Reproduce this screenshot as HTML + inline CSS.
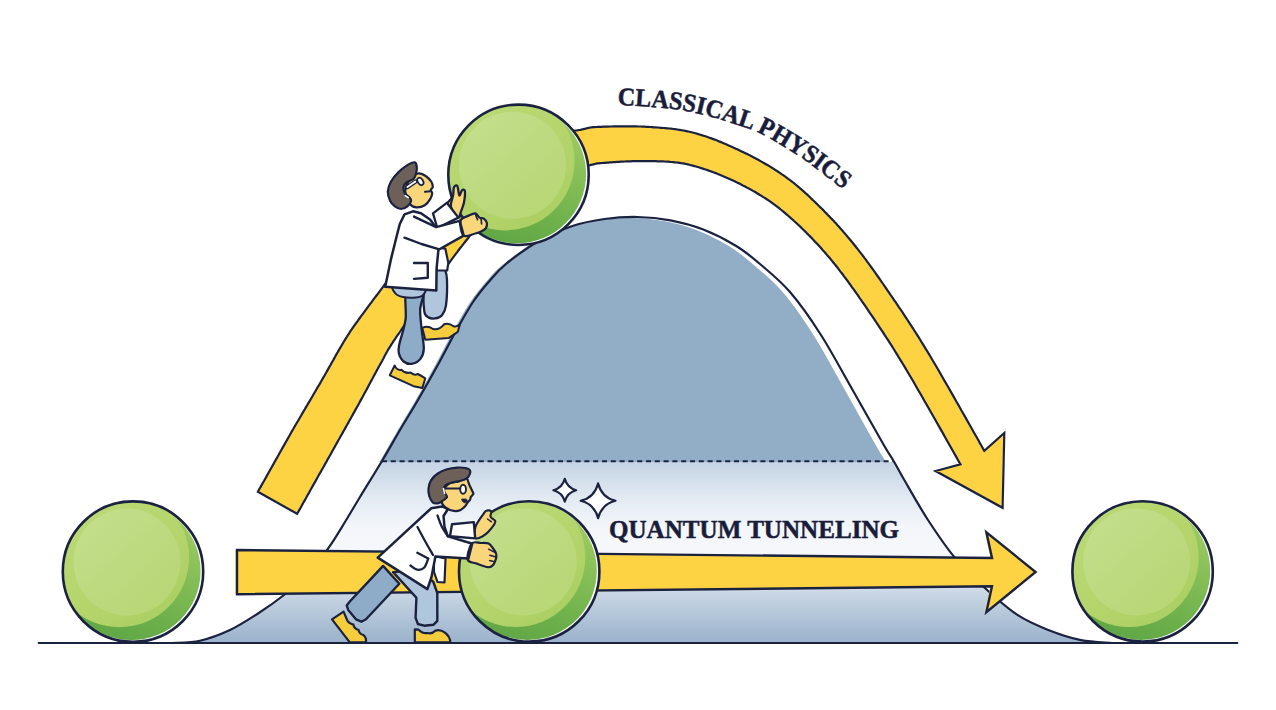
<!DOCTYPE html>
<html><head><meta charset="utf-8"><title>Quantum tunneling</title>
<style>
html,body{margin:0;padding:0;background:#fff;}
body{width:1276px;height:710px;overflow:hidden;font-family:"Liberation Serif",serif;}
svg{display:block;}
text{font-family:"Liberation Serif",serif;font-weight:bold;fill:#1a1d3a;}
</style></head><body>
<svg width="1276" height="710" viewBox="0 0 1276 710">
<defs>
<linearGradient id="gLow" x1="0" y1="462" x2="0" y2="643" gradientUnits="userSpaceOnUse">
<stop offset="0" stop-color="#c4d4e4"/><stop offset="0.2" stop-color="#e2eaf2"/>
<stop offset="0.36" stop-color="#f3f6fa"/><stop offset="0.5" stop-color="#f6f8fb"/>
<stop offset="0.62" stop-color="#e3eaf2"/><stop offset="0.74" stop-color="#c6d4e3"/><stop offset="1" stop-color="#9ab2cb"/>
</linearGradient>
<linearGradient id="gBall" x1="0.8" y1="0.1" x2="0.45" y2="1">
<stop offset="0" stop-color="#a0cc62"/><stop offset="0.4" stop-color="#84bd56"/>
<stop offset="0.75" stop-color="#6db04b"/><stop offset="1" stop-color="#62a846"/>
</linearGradient>
<linearGradient id="gBallMid" x1="0.2" y1="0.1" x2="0.85" y2="0.9">
<stop offset="0" stop-color="#bbd976"/><stop offset="0.6" stop-color="#b5d56c"/>
<stop offset="1" stop-color="#abcf63"/>
</linearGradient>
<linearGradient id="gBallIn" x1="0.15" y1="0.1" x2="0.85" y2="0.9">
<stop offset="0" stop-color="#c4de8b"/><stop offset="0.5" stop-color="#bdda80"/>
<stop offset="1" stop-color="#b8d775"/>
</linearGradient>
<clipPath id="cHill"><path d="M172.0 643.0 C176.7 642.6 190.3 642.9 200.0 640.7 C209.7 638.5 220.3 634.5 230.0 630.0 C239.7 625.5 249.0 619.3 258.0 613.5 C267.0 607.7 275.7 601.6 284.0 595.0 C292.3 588.4 300.7 581.7 308.0 574.0 C315.3 566.3 321.8 557.4 328.0 548.7 C334.2 540.0 339.7 530.6 345.0 522.0 C350.3 513.4 353.8 507.2 360.0 497.0 C366.2 486.8 375.3 472.2 382.0 461.0 C388.7 449.8 394.0 440.2 400.0 430.0 C406.0 419.8 411.3 411.5 418.0 400.0 C424.7 388.5 433.7 372.5 440.0 361.0 C446.3 349.5 450.5 340.8 456.0 331.0 C461.5 321.2 467.5 310.2 473.0 302.0 C478.5 293.8 483.5 287.8 489.0 281.5 C494.5 275.2 497.7 270.8 506.0 264.0 C514.3 257.2 527.8 247.3 538.7 241.0 C549.7 234.7 560.7 229.9 571.7 226.2 C582.7 222.5 593.6 220.5 604.6 219.0 C615.6 217.5 626.5 216.8 637.5 217.0 C648.5 217.2 659.4 218.2 670.4 220.3 C681.4 222.4 692.3 225.2 703.3 229.5 C714.3 233.8 726.8 240.2 736.2 246.0 C745.7 251.8 751.0 256.3 760.0 264.0 C769.0 271.7 779.8 280.2 790.0 292.0 C800.2 303.8 810.8 319.0 821.0 335.0 C831.2 351.0 841.1 369.8 851.5 388.0 C861.9 406.2 876.2 431.8 883.2 444.0 C890.2 456.2 890.1 455.1 893.6 461.0 C897.1 466.9 898.3 469.7 904.0 479.5 C909.7 489.3 919.5 507.0 928.0 520.0 C936.5 533.0 945.0 546.0 954.7 557.5 C964.4 569.0 975.5 579.4 986.0 589.0 C996.5 598.6 1007.3 608.3 1017.8 615.2 C1028.3 622.1 1038.5 626.1 1049.0 630.3 C1059.5 634.5 1070.5 638.1 1081.0 640.2 C1091.5 642.3 1106.8 642.5 1112.0 643.0 L1112 643 L172 643Z"/></clipPath>
<clipPath id="cUp"><rect x="0" y="0" width="1276" height="462"/></clipPath>
<clipPath id="cLow"><rect x="0" y="462" width="1276" height="181"/></clipPath>
<path id="tp" d="M617.6 105.0 C621.4 105.2 631.2 105.5 640.6 106.2 C650.0 106.9 664.3 107.8 674.1 109.1 C683.9 110.4 690.3 111.6 699.3 113.8 C708.3 116.0 718.0 118.7 728.1 122.0 C738.2 125.3 749.3 128.3 760.2 133.4 C771.1 138.5 784.0 146.7 793.5 152.7 C803.0 158.7 808.8 162.9 817.5 169.5 C826.2 176.1 837.2 184.6 846.0 192.0 C854.8 199.4 866.0 210.3 870.0 214.0"/>
</defs>
<rect width="1276" height="710" fill="#fff"/>
<!-- hill fills -->
<g clip-path="url(#cLow)"><rect x="150" y="462" width="1000" height="181" fill="url(#gLow)" clip-path="url(#cHill)"/></g>
<g clip-path="url(#cUp)"><path d="M172.0 643.0 C176.7 642.6 190.3 642.9 200.0 640.7 C209.7 638.5 220.3 634.5 230.0 630.0 C239.7 625.5 249.0 619.3 258.0 613.5 C267.0 607.7 275.7 601.6 284.0 595.0 C292.3 588.4 300.7 581.7 308.0 574.0 C315.3 566.3 321.8 557.4 328.0 548.7 C334.2 540.0 339.7 530.6 345.0 522.0 C350.3 513.4 353.8 507.2 360.0 497.0 C366.2 486.8 375.3 472.2 382.0 461.0 C388.7 449.8 394.0 440.2 400.0 430.0 C406.0 419.8 411.3 411.5 418.0 400.0 C424.7 388.5 433.7 372.5 440.0 361.0 C446.3 349.5 450.5 340.8 456.0 331.0 C461.5 321.2 467.5 310.2 473.0 302.0 C478.5 293.8 483.5 287.8 489.0 281.5 C494.5 275.2 497.7 270.8 506.0 264.0 C514.3 257.2 527.8 247.3 538.7 241.0 C549.7 234.7 560.7 229.9 571.7 226.2 C582.7 222.5 593.6 220.5 604.6 219.0 C615.6 217.5 626.5 216.8 637.5 217.0 C648.5 217.2 659.4 218.2 670.4 220.3 C681.4 222.4 692.3 225.2 703.3 229.5 C714.3 233.8 726.8 240.2 736.2 246.0 C745.7 251.8 751.0 256.3 760.0 264.0 C769.0 271.7 779.8 280.2 790.0 292.0 C800.2 303.8 810.8 319.0 821.0 335.0 C831.2 351.0 841.1 369.8 851.5 388.0 C861.9 406.2 876.2 431.8 883.2 444.0 C890.2 456.2 890.1 455.1 893.6 461.0 C897.1 466.9 898.3 469.7 904.0 479.5 C909.7 489.3 919.5 507.0 928.0 520.0 C936.5 533.0 945.0 546.0 954.7 557.5 C964.4 569.0 975.5 579.4 986.0 589.0 C996.5 598.6 1007.3 608.3 1017.8 615.2 C1028.3 622.1 1038.5 626.1 1049.0 630.3 C1059.5 634.5 1070.5 638.1 1081.0 640.2 C1091.5 642.3 1106.8 642.5 1112.0 643.0 L1112 643 L172 643Z" fill="#92adc6" transform="translate(-5,1) translate(638,0) scale(0.99,1) translate(-638,0)"/></g>
<line x1="382" y1="461.3" x2="894" y2="461.3" stroke="#1b2240" stroke-width="2.1" stroke-dasharray="5 3.8"/>
<path d="M172.0 643.0 C176.7 642.6 190.3 642.9 200.0 640.7 C209.7 638.5 220.3 634.5 230.0 630.0 C239.7 625.5 249.0 619.3 258.0 613.5 C267.0 607.7 275.7 601.6 284.0 595.0 C292.3 588.4 300.7 581.7 308.0 574.0 C315.3 566.3 321.8 557.4 328.0 548.7 C334.2 540.0 339.7 530.6 345.0 522.0 C350.3 513.4 353.8 507.2 360.0 497.0 C366.2 486.8 375.3 472.2 382.0 461.0 C388.7 449.8 394.0 440.2 400.0 430.0 C406.0 419.8 411.3 411.5 418.0 400.0 C424.7 388.5 433.7 372.5 440.0 361.0 C446.3 349.5 450.5 340.8 456.0 331.0 C461.5 321.2 467.5 310.2 473.0 302.0 C478.5 293.8 483.5 287.8 489.0 281.5 C494.5 275.2 497.7 270.8 506.0 264.0 C514.3 257.2 527.8 247.3 538.7 241.0 C549.7 234.7 560.7 229.9 571.7 226.2 C582.7 222.5 593.6 220.5 604.6 219.0 C615.6 217.5 626.5 216.8 637.5 217.0 C648.5 217.2 659.4 218.2 670.4 220.3 C681.4 222.4 692.3 225.2 703.3 229.5 C714.3 233.8 726.8 240.2 736.2 246.0 C745.7 251.8 751.0 256.3 760.0 264.0 C769.0 271.7 779.8 280.2 790.0 292.0 C800.2 303.8 810.8 319.0 821.0 335.0 C831.2 351.0 841.1 369.8 851.5 388.0 C861.9 406.2 876.2 431.8 883.2 444.0 C890.2 456.2 890.1 455.1 893.6 461.0 C897.1 466.9 898.3 469.7 904.0 479.5 C909.7 489.3 919.5 507.0 928.0 520.0 C936.5 533.0 945.0 546.0 954.7 557.5 C964.4 569.0 975.5 579.4 986.0 589.0 C996.5 598.6 1007.3 608.3 1017.8 615.2 C1028.3 622.1 1038.5 626.1 1049.0 630.3 C1059.5 634.5 1070.5 638.1 1081.0 640.2 C1091.5 642.3 1106.8 642.5 1112.0 643.0" fill="none" stroke="#1b2240" stroke-width="2.2"/>
<line x1="38.7" y1="643" x2="1237.3" y2="643" stroke="#1b2240" stroke-width="2.2" stroke-linecap="round"/>
<!-- arrows -->
<path d="M257.9 491.8 L258.6 490.4 L259.5 488.8 L260.5 487.1 L261.6 485.1 L262.8 483.0 L264.1 480.8 L265.4 478.4 L266.8 475.9 L268.3 473.2 L269.8 470.5 L271.4 467.7 L273.0 464.9 L274.6 462.0 L276.2 459.1 L277.9 456.2 L279.5 453.2 L281.2 450.3 L282.8 447.4 L284.4 444.6 L286.0 441.8 L287.5 439.1 L289.0 436.5 L290.4 434.0 L291.7 431.6 L293.1 429.3 L294.4 427.0 L295.7 424.7 L297.0 422.5 L298.4 420.2 L299.7 418.0 L301.0 415.8 L302.2 413.6 L303.5 411.4 L304.8 409.3 L306.0 407.1 L307.3 405.0 L308.5 402.9 L309.8 400.8 L311.0 398.8 L312.2 396.7 L313.3 394.7 L314.5 392.7 L315.7 390.7 L316.8 388.8 L317.9 386.9 L319.1 385.0 L320.2 383.1 L321.2 381.2 L322.3 379.4 L323.3 377.6 L324.4 375.8 L325.4 374.0 L326.4 372.2 L327.4 370.4 L328.4 368.6 L329.4 366.9 L330.4 365.2 L331.4 363.4 L332.3 361.7 L333.3 360.1 L334.2 358.4 L335.1 356.8 L336.0 355.1 L336.9 353.5 L337.8 352.0 L338.7 350.4 L339.6 348.9 L340.5 347.4 L341.3 346.0 L342.2 344.5 L343.0 343.1 L343.8 341.8 L344.5 340.5 L345.2 339.5 L345.8 338.4 L346.4 337.5 L347.0 336.6 L347.5 335.7 L348.0 334.9 L348.6 334.1 L349.1 333.3 L349.6 332.5 L350.1 331.7 L350.6 330.9 L351.2 330.1 L351.7 329.3 L352.3 328.4 L353.0 327.5 L353.6 326.6 L354.3 325.6 L355.0 324.6 L355.8 323.5 L356.7 322.3 L357.6 321.1 L358.5 319.7 L359.6 318.3 L360.7 316.7 L361.9 315.1 L363.2 313.4 L364.5 311.6 L365.9 309.7 L367.3 307.8 L368.7 305.9 L370.2 303.9 L371.8 301.8 L373.3 299.7 L374.9 297.6 L376.5 295.5 L378.2 293.3 L379.8 291.1 L381.5 288.9 L383.2 286.7 L384.8 284.5 L386.5 282.3 L388.2 280.1 L389.8 277.9 L391.5 275.7 L393.1 273.6 L394.7 271.5 L396.3 269.4 L397.8 267.4 L399.4 265.3 L401.0 263.2 L402.5 261.1 L404.1 259.0 L405.7 256.8 L407.3 254.7 L408.9 252.5 L410.5 250.4 L412.1 248.2 L413.7 246.0 L415.4 243.9 L417.0 241.7 L418.6 239.5 L420.3 237.3 L421.9 235.2 L423.6 233.0 L425.2 230.9 L426.9 228.8 L428.6 226.6 L430.2 224.5 L431.9 222.5 L433.6 220.4 L435.2 218.4 L436.8 216.5 L438.3 214.6 L439.8 212.7 L441.4 210.7 L442.9 208.8 L444.4 206.9 L446.0 204.9 L447.5 203.0 L449.1 201.0 L450.7 199.1 L452.3 197.1 L453.9 195.2 L455.6 193.2 L457.3 191.3 L459.0 189.4 L460.7 187.4 L462.5 185.5 L464.3 183.6 L466.1 181.7 L468.0 179.9 L469.9 178.0 L471.8 176.2 L473.8 174.4 L475.9 172.7 L477.9 171.0 L479.9 169.4 L481.9 167.8 L484.0 166.3 L486.1 164.7 L488.2 163.2 L490.3 161.7 L492.4 160.3 L494.6 158.9 L496.8 157.5 L498.9 156.1 L501.1 154.8 L503.3 153.5 L505.5 152.2 L507.8 151.0 L510.0 149.8 L512.2 148.6 L514.5 147.5 L516.7 146.4 L519.0 145.3 L521.2 144.3 L523.5 143.3 L525.8 142.3 L528.1 141.3 L530.6 140.4 L533.2 139.5 L535.8 138.6 L538.4 137.8 L541.0 137.1 L543.6 136.4 L546.2 135.8 L548.7 135.2 L551.3 134.7 L553.8 134.2 L556.3 133.7 L558.7 133.3 L561.1 132.9 L563.5 132.5 L565.7 132.1 L567.9 131.8 L570.0 131.4 L572.0 131.1 L573.9 130.8 L575.7 130.5 L577.3 130.3 L578.8 130.0 L580.2 129.8 L581.3 129.6 L582.4 129.3 L583.4 129.1 L584.3 128.9 L585.0 128.8 L585.5 128.7 L586.0 128.5 L586.4 128.4 L586.8 128.3 L587.2 128.2 L587.6 128.1 L588.1 128.0 L588.8 127.8 L589.6 127.7 L590.4 127.5 L591.2 127.4 L592.0 127.3 L592.8 127.2 L593.5 127.2 L594.2 127.1 L595.0 127.1 L595.8 127.0 L596.7 127.0 L597.7 126.9 L598.9 126.8 L600.2 126.8 L601.6 126.8 L603.1 126.7 L604.7 126.7 L606.3 126.6 L608.1 126.6 L609.9 126.5 L611.7 126.5 L613.6 126.4 L615.6 126.4 L617.6 126.4 L619.6 126.3 L621.7 126.3 L623.7 126.3 L625.8 126.3 L627.9 126.3 L630.1 126.3 L632.2 126.3 L634.3 126.4 L636.4 126.4 L638.5 126.5 L640.5 126.5 L642.6 126.6 L644.5 126.7 L646.4 126.8 L648.2 126.9 L650.1 127.0 L652.0 127.1 L653.8 127.3 L655.7 127.4 L657.6 127.5 L659.5 127.7 L661.4 127.8 L663.4 128.0 L665.3 128.1 L667.3 128.3 L669.2 128.5 L671.2 128.7 L673.2 129.0 L675.2 129.2 L677.2 129.5 L679.2 129.8 L681.3 130.2 L683.3 130.5 L685.3 130.9 L687.4 131.3 L689.4 131.8 L691.5 132.3 L693.5 132.8 L695.5 133.3 L697.5 133.9 L699.5 134.5 L701.5 135.1 L703.5 135.7 L705.5 136.3 L707.5 137.0 L709.4 137.7 L711.4 138.4 L713.3 139.1 L715.3 139.8 L717.2 140.6 L719.1 141.4 L721.0 142.1 L722.9 142.9 L724.8 143.7 L726.7 144.6 L728.6 145.4 L730.5 146.2 L732.3 147.1 L734.2 147.9 L736.0 148.8 L737.9 149.6 L739.7 150.5 L741.6 151.4 L743.5 152.3 L745.4 153.2 L747.3 154.1 L749.2 155.1 L751.1 156.0 L752.9 157.0 L754.8 158.0 L756.7 159.0 L758.6 160.0 L760.5 161.1 L762.3 162.1 L764.2 163.2 L766.0 164.2 L767.9 165.3 L769.7 166.4 L771.5 167.5 L773.3 168.6 L775.0 169.7 L776.8 170.8 L778.5 172.0 L780.2 173.1 L781.9 174.3 L783.6 175.4 L785.3 176.6 L786.9 177.8 L788.5 179.0 L790.0 180.2 L791.6 181.3 L793.1 182.5 L794.6 183.7 L796.1 185.0 L797.5 186.2 L799.0 187.4 L800.4 188.6 L801.9 189.9 L803.3 191.1 L804.7 192.4 L806.1 193.7 L807.5 194.9 L808.9 196.2 L810.3 197.5 L811.6 198.9 L813.0 200.2 L814.4 201.5 L815.8 202.9 L817.3 204.3 L818.7 205.7 L820.1 207.1 L821.6 208.5 L823.0 209.9 L824.5 211.4 L825.9 212.9 L827.4 214.4 L828.8 215.9 L830.3 217.4 L831.7 218.9 L833.2 220.4 L834.6 222.0 L836.1 223.6 L837.5 225.2 L839.0 226.8 L840.4 228.4 L841.9 230.0 L843.3 231.7 L844.8 233.4 L846.2 235.1 L847.6 236.8 L849.1 238.5 L850.5 240.2 L852.0 242.0 L853.4 243.7 L854.8 245.5 L856.2 247.3 L857.7 249.1 L859.0 250.8 L860.4 252.6 L861.8 254.4 L863.2 256.2 L864.6 258.1 L866.0 259.9 L867.3 261.8 L868.7 263.7 L870.1 265.6 L871.5 267.5 L872.9 269.4 L874.3 271.4 L875.7 273.4 L877.2 275.5 L878.6 277.5 L880.1 279.7 L881.6 281.8 L883.1 284.0 L884.6 286.2 L886.2 288.5 L887.8 290.8 L889.4 293.1 L890.9 295.4 L892.5 297.7 L894.1 300.1 L895.8 302.4 L897.4 304.8 L899.0 307.3 L900.7 309.7 L902.4 312.2 L904.1 314.8 L905.8 317.3 L907.5 320.0 L909.2 322.7 L911.0 325.4 L912.8 328.2 L914.6 331.0 L916.5 333.9 L918.4 336.9 L920.3 340.0 L922.2 343.1 L924.2 346.3 L926.2 349.6 L928.2 352.9 L930.4 356.5 L932.6 360.3 L935.0 364.3 L937.5 368.5 L940.0 372.9 L942.6 377.5 L945.3 382.1 L948.0 386.8 L950.8 391.6 L953.5 396.4 L956.2 401.2 L959.0 406.0 L961.6 410.8 L964.3 415.4 L966.8 419.9 L969.3 424.3 L971.7 428.5 L973.9 432.5 L976.1 436.3 L978.1 439.8 L979.9 443.1 L981.6 446.0 L983.0 448.6 L984.3 450.8 L1004.3 433.0 L1002.6 507.8 L935.6 471.0 L960.5 464.4 L959.2 462.2 L957.7 459.5 L956.1 456.6 L954.2 453.3 L952.2 449.8 L950.1 446.0 L947.8 442.0 L945.4 437.8 L943.0 433.4 L940.4 428.9 L937.8 424.3 L935.1 419.5 L932.4 414.8 L929.7 410.0 L927.0 405.2 L924.2 400.5 L921.6 395.8 L918.9 391.2 L916.3 386.7 L913.8 382.3 L911.4 378.2 L909.0 374.2 L906.8 370.5 L904.8 367.1 L902.8 363.8 L900.8 360.6 L898.9 357.5 L897.0 354.4 L895.2 351.5 L893.4 348.5 L891.6 345.7 L889.8 342.9 L888.1 340.2 L886.3 337.5 L884.6 334.9 L883.0 332.3 L881.3 329.8 L879.6 327.3 L878.0 324.9 L876.4 322.5 L874.8 320.1 L873.2 317.7 L871.6 315.4 L870.0 313.1 L868.5 310.8 L866.9 308.5 L865.4 306.2 L863.8 303.9 L862.2 301.7 L860.7 299.5 L859.2 297.3 L857.8 295.2 L856.3 293.2 L854.9 291.2 L853.5 289.2 L852.1 287.3 L850.8 285.3 L849.4 283.5 L848.1 281.6 L846.7 279.8 L845.4 278.0 L844.1 276.3 L842.8 274.5 L841.4 272.8 L840.1 271.1 L838.8 269.4 L837.5 267.7 L836.2 266.0 L834.9 264.4 L833.5 262.7 L832.2 261.1 L830.8 259.4 L829.5 257.8 L828.1 256.2 L826.7 254.6 L825.4 253.0 L824.0 251.4 L822.6 249.9 L821.2 248.3 L819.9 246.8 L818.5 245.3 L817.1 243.8 L815.8 242.4 L814.4 240.9 L813.0 239.5 L811.7 238.0 L810.3 236.6 L808.9 235.2 L807.5 233.9 L806.2 232.5 L804.8 231.1 L803.4 229.8 L802.1 228.5 L800.7 227.1 L799.3 225.8 L797.9 224.5 L796.6 223.3 L795.2 222.0 L793.8 220.8 L792.5 219.5 L791.1 218.3 L789.8 217.2 L788.5 216.0 L787.2 214.9 L785.9 213.8 L784.6 212.7 L783.3 211.6 L782.0 210.5 L780.7 209.5 L779.4 208.4 L778.1 207.4 L776.8 206.4 L775.4 205.4 L774.1 204.4 L772.7 203.4 L771.4 202.4 L770.0 201.4 L768.6 200.4 L767.1 199.5 L765.7 198.5 L764.2 197.6 L762.6 196.6 L761.1 195.6 L759.5 194.7 L757.9 193.7 L756.3 192.7 L754.7 191.8 L753.0 190.9 L751.4 189.9 L749.7 189.0 L748.0 188.1 L746.3 187.2 L744.6 186.3 L742.8 185.4 L741.1 184.5 L739.4 183.6 L737.6 182.8 L735.9 181.9 L734.2 181.1 L732.4 180.3 L730.7 179.5 L729.0 178.7 L727.2 177.9 L725.5 177.2 L723.8 176.5 L722.0 175.7 L720.3 175.0 L718.5 174.3 L716.8 173.6 L715.1 172.9 L713.3 172.3 L711.6 171.6 L709.8 171.0 L708.1 170.4 L706.4 169.8 L704.7 169.2 L702.9 168.6 L701.2 168.1 L699.5 167.5 L697.8 167.0 L696.1 166.5 L694.4 166.1 L692.8 165.6 L691.1 165.2 L689.4 164.8 L687.8 164.4 L686.1 164.0 L684.5 163.7 L682.9 163.4 L681.3 163.2 L679.7 162.9 L678.1 162.7 L676.5 162.5 L674.8 162.3 L673.2 162.1 L671.5 162.0 L669.8 161.8 L668.2 161.7 L666.5 161.6 L664.8 161.5 L663.0 161.4 L661.3 161.4 L659.6 161.3 L657.8 161.3 L656.1 161.2 L654.3 161.2 L652.5 161.2 L650.7 161.2 L648.9 161.1 L647.1 161.1 L645.3 161.1 L643.5 161.1 L641.7 161.1 L639.9 161.1 L638.1 161.1 L636.3 161.1 L634.4 161.2 L632.5 161.2 L630.5 161.3 L628.6 161.4 L626.6 161.4 L624.7 161.5 L622.7 161.6 L620.8 161.7 L618.9 161.8 L617.0 161.9 L615.1 162.1 L613.3 162.2 L611.6 162.3 L609.8 162.4 L608.2 162.6 L606.6 162.7 L605.1 162.8 L603.7 162.9 L602.4 163.0 L601.1 163.2 L600.0 163.2 L599.0 163.3 L598.2 163.4 L597.5 163.4 L597.0 163.5 L596.6 163.5 L596.4 163.5 L596.3 163.5 L596.4 163.5 L596.5 163.5 L596.8 163.5 L597.0 163.4 L597.0 163.4 L596.9 163.4 L596.7 163.5 L596.2 163.6 L595.7 163.8 L595.0 164.0 L594.3 164.1 L593.4 164.4 L592.4 164.6 L591.3 164.8 L590.1 165.1 L588.7 165.4 L587.0 165.8 L585.3 166.1 L583.5 166.4 L581.6 166.7 L579.7 167.0 L577.8 167.4 L575.8 167.7 L573.7 168.0 L571.6 168.4 L569.5 168.7 L567.4 169.1 L565.3 169.5 L563.1 169.9 L561.0 170.3 L558.9 170.8 L556.7 171.2 L554.7 171.7 L552.6 172.2 L550.7 172.7 L548.8 173.3 L546.9 173.8 L545.2 174.4 L543.5 175.0 L541.9 175.7 L540.2 176.4 L538.4 177.2 L536.6 178.0 L534.8 178.8 L533.0 179.7 L531.2 180.6 L529.4 181.6 L527.6 182.5 L525.8 183.5 L524.0 184.5 L522.2 185.6 L520.4 186.7 L518.6 187.8 L516.8 188.9 L515.1 190.1 L513.3 191.2 L511.6 192.4 L509.9 193.6 L508.2 194.9 L506.5 196.1 L504.9 197.4 L503.3 198.7 L501.7 200.0 L500.1 201.3 L498.6 202.6 L497.2 203.9 L495.8 205.3 L494.3 206.7 L492.9 208.1 L491.5 209.6 L490.1 211.1 L488.6 212.7 L487.2 214.3 L485.8 215.9 L484.4 217.6 L482.9 219.4 L481.5 221.1 L480.0 222.9 L478.6 224.7 L477.1 226.6 L475.6 228.4 L474.1 230.4 L472.6 232.3 L471.1 234.2 L469.6 236.2 L468.0 238.2 L466.4 240.2 L464.8 242.2 L463.3 244.1 L461.8 246.1 L460.2 248.0 L458.7 250.0 L457.2 252.1 L455.6 254.1 L454.1 256.2 L452.6 258.2 L451.0 260.3 L449.4 262.5 L447.9 264.6 L446.3 266.7 L444.8 268.9 L443.2 271.0 L441.7 273.2 L440.1 275.4 L438.5 277.5 L437.0 279.7 L435.4 281.9 L433.9 284.0 L432.3 286.2 L430.8 288.3 L429.2 290.5 L427.7 292.6 L426.2 294.7 L424.6 296.9 L423.1 299.0 L421.5 301.2 L419.9 303.5 L418.3 305.7 L416.7 307.9 L415.2 310.2 L413.6 312.4 L412.0 314.6 L410.4 316.9 L408.9 319.0 L407.3 321.2 L405.8 323.3 L404.4 325.4 L402.9 327.5 L401.5 329.5 L400.2 331.5 L398.9 333.4 L397.6 335.2 L396.4 336.9 L395.3 338.6 L394.2 340.2 L393.2 341.7 L392.3 343.1 L391.4 344.4 L390.7 345.6 L390.0 346.7 L389.4 347.7 L388.8 348.6 L388.3 349.4 L387.8 350.2 L387.4 350.9 L387.1 351.5 L386.7 352.2 L386.4 352.8 L386.1 353.4 L385.7 354.0 L385.4 354.6 L385.0 355.3 L384.6 356.1 L384.2 356.9 L383.8 357.7 L383.3 358.7 L382.7 359.7 L382.2 360.8 L381.5 362.0 L380.8 363.2 L380.1 364.5 L379.4 365.8 L378.6 367.1 L377.9 368.5 L377.1 369.9 L376.3 371.4 L375.5 372.9 L374.7 374.4 L373.8 376.0 L373.0 377.6 L372.1 379.3 L371.2 380.9 L370.3 382.6 L369.4 384.3 L368.4 386.1 L367.5 387.9 L366.5 389.7 L365.5 391.5 L364.5 393.3 L363.5 395.2 L362.5 397.1 L361.5 398.9 L360.4 400.9 L359.4 402.8 L358.3 404.7 L357.2 406.7 L356.1 408.6 L355.0 410.6 L353.9 412.6 L352.8 414.6 L351.6 416.7 L350.5 418.7 L349.3 420.8 L348.2 422.9 L347.0 425.0 L345.8 427.1 L344.6 429.3 L343.4 431.4 L342.2 433.6 L340.9 435.8 L339.7 438.0 L338.4 440.2 L337.2 442.4 L335.9 444.7 L334.7 446.9 L333.4 449.2 L332.1 451.5 L330.9 453.8 L329.5 456.2 L328.1 458.6 L326.7 461.2 L325.2 463.9 L323.6 466.7 L322.0 469.5 L320.4 472.4 L318.7 475.3 L317.1 478.2 L315.5 481.1 L313.8 484.1 L312.2 486.9 L310.6 489.8 L309.1 492.6 L307.5 495.3 L306.1 497.9 L304.7 500.4 L303.3 502.8 L302.0 505.1 L300.9 507.2 L299.8 509.1 L298.8 510.9 L297.9 512.5 L297.1 513.8Z" fill="#fdd344" transform="translate(-1,0)"/>
<path d="M257.9 491.8 L258.6 490.4 L259.5 488.8 L260.5 487.1 L261.6 485.1 L262.8 483.0 L264.1 480.8 L265.4 478.4 L266.8 475.9 L268.3 473.2 L269.8 470.5 L271.4 467.7 L273.0 464.9 L274.6 462.0 L276.2 459.1 L277.9 456.2 L279.5 453.2 L281.2 450.3 L282.8 447.4 L284.4 444.6 L286.0 441.8 L287.5 439.1 L289.0 436.5 L290.4 434.0 L291.7 431.6 L293.1 429.3 L294.4 427.0 L295.7 424.7 L297.0 422.5 L298.4 420.2 L299.7 418.0 L301.0 415.8 L302.2 413.6 L303.5 411.4 L304.8 409.3 L306.0 407.1 L307.3 405.0 L308.5 402.9 L309.8 400.8 L311.0 398.8 L312.2 396.7 L313.3 394.7 L314.5 392.7 L315.7 390.7 L316.8 388.8 L317.9 386.9 L319.1 385.0 L320.2 383.1 L321.2 381.2 L322.3 379.4 L323.3 377.6 L324.4 375.8 L325.4 374.0 L326.4 372.2 L327.4 370.4 L328.4 368.6 L329.4 366.9 L330.4 365.2 L331.4 363.4 L332.3 361.7 L333.3 360.1 L334.2 358.4 L335.1 356.8 L336.0 355.1 L336.9 353.5 L337.8 352.0 L338.7 350.4 L339.6 348.9 L340.5 347.4 L341.3 346.0 L342.2 344.5 L343.0 343.1 L343.8 341.8 L344.5 340.5 L345.2 339.5 L345.8 338.4 L346.4 337.5 L347.0 336.6 L347.5 335.7 L348.0 334.9 L348.6 334.1 L349.1 333.3 L349.6 332.5 L350.1 331.7 L350.6 330.9 L351.2 330.1 L351.7 329.3 L352.3 328.4 L353.0 327.5 L353.6 326.6 L354.3 325.6 L355.0 324.6 L355.8 323.5 L356.7 322.3 L357.6 321.1 L358.5 319.7 L359.6 318.3 L360.7 316.7 L361.9 315.1 L363.2 313.4 L364.5 311.6 L365.9 309.7 L367.3 307.8 L368.7 305.9 L370.2 303.9 L371.8 301.8 L373.3 299.7 L374.9 297.6 L376.5 295.5 L378.2 293.3 L379.8 291.1 L381.5 288.9 L383.2 286.7 L384.8 284.5 L386.5 282.3 L388.2 280.1 L389.8 277.9 L391.5 275.7 L393.1 273.6 L394.7 271.5 L396.3 269.4 L397.8 267.4 L399.4 265.3 L401.0 263.2 L402.5 261.1 L404.1 259.0 L405.7 256.8 L407.3 254.7 L408.9 252.5 L410.5 250.4 L412.1 248.2 L413.7 246.0 L415.4 243.9 L417.0 241.7 L418.6 239.5 L420.3 237.3 L421.9 235.2 L423.6 233.0 L425.2 230.9 L426.9 228.8 L428.6 226.6 L430.2 224.5 L431.9 222.5 L433.6 220.4 L435.2 218.4 L436.8 216.5 L438.3 214.6 L439.8 212.7 L441.4 210.7 L442.9 208.8 L444.4 206.9 L446.0 204.9 L447.5 203.0 L449.1 201.0 L450.7 199.1 L452.3 197.1 L453.9 195.2 L455.6 193.2 L457.3 191.3 L459.0 189.4 L460.7 187.4 L462.5 185.5 L464.3 183.6 L466.1 181.7 L468.0 179.9 L469.9 178.0 L471.8 176.2 L473.8 174.4 L475.9 172.7 L477.9 171.0 L479.9 169.4 L481.9 167.8 L484.0 166.3 L486.1 164.7 L488.2 163.2 L490.3 161.7 L492.4 160.3 L494.6 158.9 L496.8 157.5 L498.9 156.1 L501.1 154.8 L503.3 153.5 L505.5 152.2 L507.8 151.0 L510.0 149.8 L512.2 148.6 L514.5 147.5 L516.7 146.4 L519.0 145.3 L521.2 144.3 L523.5 143.3 L525.8 142.3 L528.1 141.3 L530.6 140.4 L533.2 139.5 L535.8 138.6 L538.4 137.8 L541.0 137.1 L543.6 136.4 L546.2 135.8 L548.7 135.2 L551.3 134.7 L553.8 134.2 L556.3 133.7 L558.7 133.3 L561.1 132.9 L563.5 132.5 L565.7 132.1 L567.9 131.8 L570.0 131.4 L572.0 131.1 L573.9 130.8 L575.7 130.5 L577.3 130.3 L578.8 130.0 L580.2 129.8 L581.3 129.6 L582.4 129.3 L583.4 129.1 L584.3 128.9 L585.0 128.8 L585.5 128.7 L586.0 128.5 L586.4 128.4 L586.8 128.3 L587.2 128.2 L587.6 128.1 L588.1 128.0 L588.8 127.8 L589.6 127.7 L590.4 127.5 L591.2 127.4 L592.0 127.3 L592.8 127.2 L593.5 127.2 L594.2 127.1 L595.0 127.1 L595.8 127.0 L596.7 127.0 L597.7 126.9 L598.9 126.8 L600.2 126.8 L601.6 126.8 L603.1 126.7 L604.7 126.7 L606.3 126.6 L608.1 126.6 L609.9 126.5 L611.7 126.5 L613.6 126.4 L615.6 126.4 L617.6 126.4 L619.6 126.3 L621.7 126.3 L623.7 126.3 L625.8 126.3 L627.9 126.3 L630.1 126.3 L632.2 126.3 L634.3 126.4 L636.4 126.4 L638.5 126.5 L640.5 126.5 L642.6 126.6 L644.5 126.7 L646.4 126.8 L648.2 126.9 L650.1 127.0 L652.0 127.1 L653.8 127.3 L655.7 127.4 L657.6 127.5 L659.5 127.7 L661.4 127.8 L663.4 128.0 L665.3 128.1 L667.3 128.3 L669.2 128.5 L671.2 128.7 L673.2 129.0 L675.2 129.2 L677.2 129.5 L679.2 129.8 L681.3 130.2 L683.3 130.5 L685.3 130.9 L687.4 131.3 L689.4 131.8 L691.5 132.3 L693.5 132.8 L695.5 133.3 L697.5 133.9 L699.5 134.5 L701.5 135.1 L703.5 135.7 L705.5 136.3 L707.5 137.0 L709.4 137.7 L711.4 138.4 L713.3 139.1 L715.3 139.8 L717.2 140.6 L719.1 141.4 L721.0 142.1 L722.9 142.9 L724.8 143.7 L726.7 144.6 L728.6 145.4 L730.5 146.2 L732.3 147.1 L734.2 147.9 L736.0 148.8 L737.9 149.6 L739.7 150.5 L741.6 151.4 L743.5 152.3 L745.4 153.2 L747.3 154.1 L749.2 155.1 L751.1 156.0 L752.9 157.0 L754.8 158.0 L756.7 159.0 L758.6 160.0 L760.5 161.1 L762.3 162.1 L764.2 163.2 L766.0 164.2 L767.9 165.3 L769.7 166.4 L771.5 167.5 L773.3 168.6 L775.0 169.7 L776.8 170.8 L778.5 172.0 L780.2 173.1 L781.9 174.3 L783.6 175.4 L785.3 176.6 L786.9 177.8 L788.5 179.0 L790.0 180.2 L791.6 181.3 L793.1 182.5 L794.6 183.7 L796.1 185.0 L797.5 186.2 L799.0 187.4 L800.4 188.6 L801.9 189.9 L803.3 191.1 L804.7 192.4 L806.1 193.7 L807.5 194.9 L808.9 196.2 L810.3 197.5 L811.6 198.9 L813.0 200.2 L814.4 201.5 L815.8 202.9 L817.3 204.3 L818.7 205.7 L820.1 207.1 L821.6 208.5 L823.0 209.9 L824.5 211.4 L825.9 212.9 L827.4 214.4 L828.8 215.9 L830.3 217.4 L831.7 218.9 L833.2 220.4 L834.6 222.0 L836.1 223.6 L837.5 225.2 L839.0 226.8 L840.4 228.4 L841.9 230.0 L843.3 231.7 L844.8 233.4 L846.2 235.1 L847.6 236.8 L849.1 238.5 L850.5 240.2 L852.0 242.0 L853.4 243.7 L854.8 245.5 L856.2 247.3 L857.7 249.1 L859.0 250.8 L860.4 252.6 L861.8 254.4 L863.2 256.2 L864.6 258.1 L866.0 259.9 L867.3 261.8 L868.7 263.7 L870.1 265.6 L871.5 267.5 L872.9 269.4 L874.3 271.4 L875.7 273.4 L877.2 275.5 L878.6 277.5 L880.1 279.7 L881.6 281.8 L883.1 284.0 L884.6 286.2 L886.2 288.5 L887.8 290.8 L889.4 293.1 L890.9 295.4 L892.5 297.7 L894.1 300.1 L895.8 302.4 L897.4 304.8 L899.0 307.3 L900.7 309.7 L902.4 312.2 L904.1 314.8 L905.8 317.3 L907.5 320.0 L909.2 322.7 L911.0 325.4 L912.8 328.2 L914.6 331.0 L916.5 333.9 L918.4 336.9 L920.3 340.0 L922.2 343.1 L924.2 346.3 L926.2 349.6 L928.2 352.9 L930.4 356.5 L932.6 360.3 L935.0 364.3 L937.5 368.5 L940.0 372.9 L942.6 377.5 L945.3 382.1 L948.0 386.8 L950.8 391.6 L953.5 396.4 L956.2 401.2 L959.0 406.0 L961.6 410.8 L964.3 415.4 L966.8 419.9 L969.3 424.3 L971.7 428.5 L973.9 432.5 L976.1 436.3 L978.1 439.8 L979.9 443.1 L981.6 446.0 L983.0 448.6 L984.3 450.8 L1004.3 433.0 L1002.6 507.8 L935.6 471.0 L960.5 464.4 L959.2 462.2 L957.7 459.5 L956.1 456.6 L954.2 453.3 L952.2 449.8 L950.1 446.0 L947.8 442.0 L945.4 437.8 L943.0 433.4 L940.4 428.9 L937.8 424.3 L935.1 419.5 L932.4 414.8 L929.7 410.0 L927.0 405.2 L924.2 400.5 L921.6 395.8 L918.9 391.2 L916.3 386.7 L913.8 382.3 L911.4 378.2 L909.0 374.2 L906.8 370.5 L904.8 367.1 L902.8 363.8 L900.8 360.6 L898.9 357.5 L897.0 354.4 L895.2 351.5 L893.4 348.5 L891.6 345.7 L889.8 342.9 L888.1 340.2 L886.3 337.5 L884.6 334.9 L883.0 332.3 L881.3 329.8 L879.6 327.3 L878.0 324.9 L876.4 322.5 L874.8 320.1 L873.2 317.7 L871.6 315.4 L870.0 313.1 L868.5 310.8 L866.9 308.5 L865.4 306.2 L863.8 303.9 L862.2 301.7 L860.7 299.5 L859.2 297.3 L857.8 295.2 L856.3 293.2 L854.9 291.2 L853.5 289.2 L852.1 287.3 L850.8 285.3 L849.4 283.5 L848.1 281.6 L846.7 279.8 L845.4 278.0 L844.1 276.3 L842.8 274.5 L841.4 272.8 L840.1 271.1 L838.8 269.4 L837.5 267.7 L836.2 266.0 L834.9 264.4 L833.5 262.7 L832.2 261.1 L830.8 259.4 L829.5 257.8 L828.1 256.2 L826.7 254.6 L825.4 253.0 L824.0 251.4 L822.6 249.9 L821.2 248.3 L819.9 246.8 L818.5 245.3 L817.1 243.8 L815.8 242.4 L814.4 240.9 L813.0 239.5 L811.7 238.0 L810.3 236.6 L808.9 235.2 L807.5 233.9 L806.2 232.5 L804.8 231.1 L803.4 229.8 L802.1 228.5 L800.7 227.1 L799.3 225.8 L797.9 224.5 L796.6 223.3 L795.2 222.0 L793.8 220.8 L792.5 219.5 L791.1 218.3 L789.8 217.2 L788.5 216.0 L787.2 214.9 L785.9 213.8 L784.6 212.7 L783.3 211.6 L782.0 210.5 L780.7 209.5 L779.4 208.4 L778.1 207.4 L776.8 206.4 L775.4 205.4 L774.1 204.4 L772.7 203.4 L771.4 202.4 L770.0 201.4 L768.6 200.4 L767.1 199.5 L765.7 198.5 L764.2 197.6 L762.6 196.6 L761.1 195.6 L759.5 194.7 L757.9 193.7 L756.3 192.7 L754.7 191.8 L753.0 190.9 L751.4 189.9 L749.7 189.0 L748.0 188.1 L746.3 187.2 L744.6 186.3 L742.8 185.4 L741.1 184.5 L739.4 183.6 L737.6 182.8 L735.9 181.9 L734.2 181.1 L732.4 180.3 L730.7 179.5 L729.0 178.7 L727.2 177.9 L725.5 177.2 L723.8 176.5 L722.0 175.7 L720.3 175.0 L718.5 174.3 L716.8 173.6 L715.1 172.9 L713.3 172.3 L711.6 171.6 L709.8 171.0 L708.1 170.4 L706.4 169.8 L704.7 169.2 L702.9 168.6 L701.2 168.1 L699.5 167.5 L697.8 167.0 L696.1 166.5 L694.4 166.1 L692.8 165.6 L691.1 165.2 L689.4 164.8 L687.8 164.4 L686.1 164.0 L684.5 163.7 L682.9 163.4 L681.3 163.2 L679.7 162.9 L678.1 162.7 L676.5 162.5 L674.8 162.3 L673.2 162.1 L671.5 162.0 L669.8 161.8 L668.2 161.7 L666.5 161.6 L664.8 161.5 L663.0 161.4 L661.3 161.4 L659.6 161.3 L657.8 161.3 L656.1 161.2 L654.3 161.2 L652.5 161.2 L650.7 161.2 L648.9 161.1 L647.1 161.1 L645.3 161.1 L643.5 161.1 L641.7 161.1 L639.9 161.1 L638.1 161.1 L636.3 161.1 L634.4 161.2 L632.5 161.2 L630.5 161.3 L628.6 161.4 L626.6 161.4 L624.7 161.5 L622.7 161.6 L620.8 161.7 L618.9 161.8 L617.0 161.9 L615.1 162.1 L613.3 162.2 L611.6 162.3 L609.8 162.4 L608.2 162.6 L606.6 162.7 L605.1 162.8 L603.7 162.9 L602.4 163.0 L601.1 163.2 L600.0 163.2 L599.0 163.3 L598.2 163.4 L597.5 163.4 L597.0 163.5 L596.6 163.5 L596.4 163.5 L596.3 163.5 L596.4 163.5 L596.5 163.5 L596.8 163.5 L597.0 163.4 L597.0 163.4 L596.9 163.4 L596.7 163.5 L596.2 163.6 L595.7 163.8 L595.0 164.0 L594.3 164.1 L593.4 164.4 L592.4 164.6 L591.3 164.8 L590.1 165.1 L588.7 165.4 L587.0 165.8 L585.3 166.1 L583.5 166.4 L581.6 166.7 L579.7 167.0 L577.8 167.4 L575.8 167.7 L573.7 168.0 L571.6 168.4 L569.5 168.7 L567.4 169.1 L565.3 169.5 L563.1 169.9 L561.0 170.3 L558.9 170.8 L556.7 171.2 L554.7 171.7 L552.6 172.2 L550.7 172.7 L548.8 173.3 L546.9 173.8 L545.2 174.4 L543.5 175.0 L541.9 175.7 L540.2 176.4 L538.4 177.2 L536.6 178.0 L534.8 178.8 L533.0 179.7 L531.2 180.6 L529.4 181.6 L527.6 182.5 L525.8 183.5 L524.0 184.5 L522.2 185.6 L520.4 186.7 L518.6 187.8 L516.8 188.9 L515.1 190.1 L513.3 191.2 L511.6 192.4 L509.9 193.6 L508.2 194.9 L506.5 196.1 L504.9 197.4 L503.3 198.7 L501.7 200.0 L500.1 201.3 L498.6 202.6 L497.2 203.9 L495.8 205.3 L494.3 206.7 L492.9 208.1 L491.5 209.6 L490.1 211.1 L488.6 212.7 L487.2 214.3 L485.8 215.9 L484.4 217.6 L482.9 219.4 L481.5 221.1 L480.0 222.9 L478.6 224.7 L477.1 226.6 L475.6 228.4 L474.1 230.4 L472.6 232.3 L471.1 234.2 L469.6 236.2 L468.0 238.2 L466.4 240.2 L464.8 242.2 L463.3 244.1 L461.8 246.1 L460.2 248.0 L458.7 250.0 L457.2 252.1 L455.6 254.1 L454.1 256.2 L452.6 258.2 L451.0 260.3 L449.4 262.5 L447.9 264.6 L446.3 266.7 L444.8 268.9 L443.2 271.0 L441.7 273.2 L440.1 275.4 L438.5 277.5 L437.0 279.7 L435.4 281.9 L433.9 284.0 L432.3 286.2 L430.8 288.3 L429.2 290.5 L427.7 292.6 L426.2 294.7 L424.6 296.9 L423.1 299.0 L421.5 301.2 L419.9 303.5 L418.3 305.7 L416.7 307.9 L415.2 310.2 L413.6 312.4 L412.0 314.6 L410.4 316.9 L408.9 319.0 L407.3 321.2 L405.8 323.3 L404.4 325.4 L402.9 327.5 L401.5 329.5 L400.2 331.5 L398.9 333.4 L397.6 335.2 L396.4 336.9 L395.3 338.6 L394.2 340.2 L393.2 341.7 L392.3 343.1 L391.4 344.4 L390.7 345.6 L390.0 346.7 L389.4 347.7 L388.8 348.6 L388.3 349.4 L387.8 350.2 L387.4 350.9 L387.1 351.5 L386.7 352.2 L386.4 352.8 L386.1 353.4 L385.7 354.0 L385.4 354.6 L385.0 355.3 L384.6 356.1 L384.2 356.9 L383.8 357.7 L383.3 358.7 L382.7 359.7 L382.2 360.8 L381.5 362.0 L380.8 363.2 L380.1 364.5 L379.4 365.8 L378.6 367.1 L377.9 368.5 L377.1 369.9 L376.3 371.4 L375.5 372.9 L374.7 374.4 L373.8 376.0 L373.0 377.6 L372.1 379.3 L371.2 380.9 L370.3 382.6 L369.4 384.3 L368.4 386.1 L367.5 387.9 L366.5 389.7 L365.5 391.5 L364.5 393.3 L363.5 395.2 L362.5 397.1 L361.5 398.9 L360.4 400.9 L359.4 402.8 L358.3 404.7 L357.2 406.7 L356.1 408.6 L355.0 410.6 L353.9 412.6 L352.8 414.6 L351.6 416.7 L350.5 418.7 L349.3 420.8 L348.2 422.9 L347.0 425.0 L345.8 427.1 L344.6 429.3 L343.4 431.4 L342.2 433.6 L340.9 435.8 L339.7 438.0 L338.4 440.2 L337.2 442.4 L335.9 444.7 L334.7 446.9 L333.4 449.2 L332.1 451.5 L330.9 453.8 L329.5 456.2 L328.1 458.6 L326.7 461.2 L325.2 463.9 L323.6 466.7 L322.0 469.5 L320.4 472.4 L318.7 475.3 L317.1 478.2 L315.5 481.1 L313.8 484.1 L312.2 486.9 L310.6 489.8 L309.1 492.6 L307.5 495.3 L306.1 497.9 L304.7 500.4 L303.3 502.8 L302.0 505.1 L300.9 507.2 L299.8 509.1 L298.8 510.9 L297.9 512.5 L297.1 513.8Z" fill="none" stroke="#1b2240" stroke-width="2.2" stroke-linejoin="miter"/>
<path d="M237 550 L992 558 L986.4 532.3 L1035.6 572 L986.4 612.2 L992 586.3 L237 594.2Z" fill="#fdd344" transform="translate(-1.6,-0.3)"/>
<path d="M237 550 L992 558 L986.4 532.3 L1035.6 572 L986.4 612.2 L992 586.3 L237 594.2Z" fill="#fdd344"/>
<path d="M237 550 L992 558 L986.4 532.3 L1035.6 572 L986.4 612.2 L992 586.3 L237 594.2Z" fill="none" stroke="#1b2240" stroke-width="2.4" stroke-linejoin="miter"/>
<!-- balls -->
<g><clipPath id="cb1"><circle cx="131.4" cy="570.9" r="69.2"/></clipPath><circle cx="133.0" cy="571.6" r="70.2" fill="#fff"/><circle cx="131.4" cy="570.9" r="69.2" fill="url(#gBall)"/><g clip-path="url(#cb1)"><circle cx="119.5" cy="557.6" r="69.6" fill="url(#gBallMid)"/><circle cx="127.0" cy="562.1" r="53.5" fill="url(#gBallIn)"/></g><circle cx="133.0" cy="571.6" r="70.2" fill="none" stroke="#1b2240" stroke-width="2.6"/></g>
<g><clipPath id="cb2"><circle cx="1141.0" cy="570.7" r="69.2"/></clipPath><circle cx="1142.6" cy="571.4" r="70.2" fill="#fff"/><circle cx="1141.0" cy="570.7" r="69.2" fill="url(#gBall)"/><g clip-path="url(#cb2)"><circle cx="1129.1" cy="557.4" r="69.6" fill="url(#gBallMid)"/><circle cx="1136.6" cy="561.9" r="53.5" fill="url(#gBallIn)"/></g><circle cx="1142.6" cy="571.4" r="70.2" fill="none" stroke="#1b2240" stroke-width="2.6"/></g>
<g><clipPath id="cb3"><circle cx="516.9" cy="174.1" r="69.2"/></clipPath><circle cx="518.5" cy="174.8" r="70.2" fill="#fff"/><circle cx="516.9" cy="174.1" r="69.2" fill="url(#gBall)"/><g clip-path="url(#cb3)"><circle cx="505.0" cy="160.8" r="69.6" fill="url(#gBallMid)"/><circle cx="512.5" cy="165.3" r="53.5" fill="url(#gBallIn)"/></g><circle cx="518.5" cy="174.8" r="70.2" fill="none" stroke="#1b2240" stroke-width="2.6"/></g>
<path d="M451.0 207.0 C450.1 203.4 452.6 198.7 453.1 195.4 C453.6 192.1 453.3 188.9 454.0 187.3 C454.7 185.7 456.4 184.6 457.3 185.9 C458.2 187.2 458.5 194.7 459.3 195.4 C460.1 196.1 461.1 191.0 462.0 190.3 C462.9 189.6 464.6 189.1 464.9 191.2 C465.2 193.3 464.6 199.3 463.9 202.8 C463.2 206.3 461.6 209.9 460.7 212.3 C459.8 214.7 460.0 218.1 458.4 217.2 C456.8 216.3 451.9 210.6 451.0 207.0Z" fill="#fad67b" stroke="#1b2240" stroke-width="2.3" stroke-linejoin="round" stroke-linecap="round" />
<path d="M424.3 290.0 C423.0 297.2 423.7 306.8 424.3 311.3 C424.9 315.8 426.4 316.0 428.2 317.2 C430.0 318.4 432.8 318.7 435.1 318.4 C437.4 318.1 440.2 317.4 442.0 315.2 C443.8 313.0 445.2 311.2 446.0 305.3 C446.8 299.4 447.2 285.6 447.0 279.7 C446.8 273.8 446.1 272.4 445.0 269.9 C443.9 267.4 442.3 265.2 440.1 264.9 C437.9 264.6 434.6 263.8 432.0 268.0 C429.4 272.2 425.6 282.8 424.3 290.0Z" fill="#b0c6dc" stroke="#1b2240" stroke-width="2.3" stroke-linejoin="round" stroke-linecap="round" /><path d="M422.3 328 Q427.5 325.2 433 329 Q439 330.4 444 324.3 Q449 322.8 453.5 326.2 Q457 327.2 459.8 324.6 L457.8 331.9 L448.9 337.9 L425.3 339.8Z" fill="#f5cc3b" stroke="#1b2240" stroke-width="2" stroke-linejoin="round" stroke-linecap="round"/><path d="M406.5 290.0 C403.6 294.9 406.7 310.3 405.6 319.1 C404.5 327.9 400.9 337.2 399.7 342.8 C398.5 348.4 398.0 349.5 398.7 352.6 C399.4 355.7 401.3 359.6 403.6 361.5 C405.9 363.4 409.7 364.2 412.5 363.7 C415.3 363.2 418.7 361.1 420.6 358.6 C422.5 356.1 423.6 353.6 423.8 348.7 C424.0 343.8 422.2 335.6 421.6 329.0 C421.0 322.4 419.9 315.8 420.2 309.3 C420.5 302.8 425.5 293.2 423.2 290.0 C420.9 286.8 409.4 285.1 406.5 290.0Z" fill="#8eabc8" stroke="#1b2240" stroke-width="2.3" stroke-linejoin="round" stroke-linecap="round" /><path d="M394.5 286.0 C399.2 285.1 418.8 286.5 423.5 288.0 C428.2 289.5 424.2 293.4 423.0 295.0 C421.8 296.6 419.3 297.2 416.0 297.5 C412.7 297.8 406.4 297.7 403.0 297.0 C399.6 296.3 396.9 295.3 395.5 293.5 C394.1 291.7 389.8 286.9 394.5 286.0Z" fill="#b0c6dc" stroke="#1b2240" stroke-width="2" stroke-linejoin="round" stroke-linecap="round" /><path d="M394.7 365.5 Q396.8 370.8 401.6 369.8 Q405 373.8 410.5 372.6 Q414 375.8 417.8 374 Q421.5 375.8 425.3 378.3 L422.3 388.1 L413.5 386.2 L389.8 375.3Z" fill="#f5cc3b" stroke="#1b2240" stroke-width="2" stroke-linejoin="round" stroke-linecap="round"/><path d="M431.0 214.0 L446.8 203.5 L459.0 218.0 L463.5 235.0 L441.0 249.5 L434.0 230.0Z" fill="#fff" stroke="none" stroke-width="0" stroke-linejoin="round" stroke-linecap="round" /><path d="M436.5 247.5 L445.3 248.6 L448.3 262.8 L447.2 270.5 L436.5 270.5Z" fill="#fff" stroke="#1b2240" stroke-width="2.2" stroke-linejoin="round" stroke-linecap="round" /><path d="M433.0 213.4 L446.8 202.8 L458.4 217.6 L437.3 228.0Z" fill="#fff" stroke="#1b2240" stroke-width="2.3" stroke-linejoin="round" stroke-linecap="round" /><path d="M413.0 211.3 L404.5 214.4 L399.8 224.0 L397.1 234.5 L390.8 259.9 L385.2 286.8 L436.3 290.6 L436.6 268.3 L438.5 249.0 L436.5 228.0 L430.0 219.5 L421.0 213.2Z" fill="#fff" stroke="#1b2240" stroke-width="2.5" stroke-linejoin="round" stroke-linecap="round" /><path d="M414.0 263.0 L427.8 263.0 L427.8 277.8 L414.0 278.9" fill="none" stroke="#1b2240" stroke-width="2.4" stroke-linejoin="round" stroke-linecap="round" /><path d="M414.0 216.6 L436.2 227.1 L459.5 220.8 L463.7 235.6 L439.4 249.3 L421.4 244.0 L404.5 237.7" fill="#fff" stroke="#1b2240" stroke-width="2.4" stroke-linejoin="round" stroke-linecap="round" /><path d="M460.5 220.8 C461.4 217.5 466.5 216.7 469.0 215.5 C471.5 214.3 473.6 213.1 475.3 213.4 C477.1 213.8 478.1 216.7 479.5 217.6 C480.9 218.5 482.6 217.8 483.8 218.7 C485.0 219.6 486.5 221.3 486.9 222.9 C487.2 224.5 486.8 226.8 485.9 228.2 C485.0 229.6 483.4 230.4 481.6 231.3 C479.8 232.2 478.3 232.8 475.3 233.5 C472.3 234.2 466.2 237.7 463.7 235.6 C461.2 233.5 459.6 224.2 460.5 220.8Z" fill="#fad67b" stroke="#1b2240" stroke-width="2.2" stroke-linejoin="round" stroke-linecap="round" /><path d="M475.3 214.0 L477.5 219.7" fill="none" stroke="#1b2240" stroke-width="1.6" stroke-linejoin="round" stroke-linecap="round" /><path d="M481.0 218.0 L481.6 224.0" fill="none" stroke="#1b2240" stroke-width="1.6" stroke-linejoin="round" stroke-linecap="round" /><path d="M459.8 220.9 L463.7 235.6" fill="none" stroke="#1b2240" stroke-width="2.4" stroke-linejoin="round" stroke-linecap="round" /><path d="M413.5 175.5 C415.8 173.1 417.3 173.2 419.3 173.3 C421.3 173.4 423.7 174.6 425.7 176.0 C427.7 177.4 430.0 179.7 431.2 181.5 C432.4 183.3 432.9 185.6 432.8 187.0 C432.7 188.4 430.9 188.7 430.8 189.8 C430.7 190.9 432.3 191.9 432.2 193.4 C432.1 194.9 431.5 196.9 430.3 198.9 C429.1 200.9 427.1 203.9 424.8 205.3 C422.5 206.7 419.0 207.5 416.6 207.4 C414.2 207.3 412.3 206.6 410.6 204.9 C408.9 203.2 407.4 199.8 406.5 197.0 C405.6 194.2 404.3 191.6 405.5 188.0 C406.7 184.4 411.2 177.9 413.5 175.5Z" fill="#fad67b" stroke="#1b2240" stroke-width="2.2" stroke-linejoin="round" stroke-linecap="round" /><path d="M414.8 162.3 C413.2 162.0 410.1 163.4 407.4 165.1 C404.6 166.8 401.0 169.7 398.3 172.4 C395.6 175.1 392.8 178.3 391.0 181.5 C389.2 184.7 387.9 188.4 387.8 191.6 C387.7 194.8 389.0 198.3 390.1 200.7 C391.2 203.1 392.8 204.8 394.6 206.2 C396.4 207.6 398.9 209.0 401.0 209.0 C403.1 209.0 405.7 207.8 407.4 206.4 C409.1 205.0 410.8 202.2 411.1 200.7 C411.4 199.1 410.3 198.3 409.3 197.1 C408.3 195.9 405.9 195.1 404.9 193.4 C403.9 191.7 403.2 188.8 403.5 187.0 C403.8 185.2 404.8 183.8 406.5 182.4 C408.2 181.0 412.1 180.3 413.7 178.8 C415.3 177.3 415.6 175.3 416.1 173.3 C416.6 171.3 417.0 168.7 416.8 166.9 C416.6 165.1 416.4 162.6 414.8 162.3Z" fill="#6d6059" stroke="#1b2240" stroke-width="2.2" stroke-linejoin="round" stroke-linecap="round" /><path d="M407.2 187.2 L415.6 181.4" fill="none" stroke="#1b2240" stroke-width="4.2" stroke-linejoin="round" stroke-linecap="round" /><path d="M407.4 187 L415.4 181.5" stroke="#fff" stroke-width="1.7" stroke-linecap="round"/><ellipse cx="420.4" cy="181.4" rx="2.6" ry="4" transform="rotate(-32 420.4 181.4)" fill="#fff" stroke="#1b2240" stroke-width="1.8"/><path d="M405.2 195.6 L408.2 197.6" stroke="#fff" stroke-width="1.6" stroke-linecap="round"/><path d="M425.0 191.8 L431.0 191.2" fill="none" stroke="#1b2240" stroke-width="2" stroke-linejoin="round" stroke-linecap="round" />
<g><clipPath id="cb4"><circle cx="527.6" cy="570.7" r="69.2"/></clipPath><circle cx="529.2" cy="571.4" r="70.2" fill="#fff"/><circle cx="527.6" cy="570.7" r="69.2" fill="url(#gBall)"/><g clip-path="url(#cb4)"><circle cx="515.7" cy="557.4" r="69.6" fill="url(#gBallMid)"/><circle cx="523.2" cy="561.9" r="53.5" fill="url(#gBallIn)"/></g><circle cx="529.2" cy="571.4" r="70.2" fill="none" stroke="#1b2240" stroke-width="2.6"/></g>
<path d="M383.1 565.9 L399.3 583.7 L366.0 619.3 L361.4 621.7 L356.0 619.3 L348.2 610.0 L346.7 605.4 L349.8 601.5Z" fill="#8eabc8" stroke="#1b2240" stroke-width="2.4" stroke-linejoin="round" stroke-linecap="round" /><path d="M343.6 611.6 L332 619.3 L349.8 642.3 L366 642.3 Q366.6 637.5 363.4 635 Q359 633.6 358.6 630 Q354 628.6 353.4 624.6 Q347.6 623 346.7 619 Z" fill="#f5cc3b" stroke="#1b2240" stroke-width="2.2" stroke-linejoin="round" stroke-linecap="round"/><path d="M393.1 572.1 L416.4 597.7 L415.6 617.8 L417.9 624.0 L424.1 625.7 L433.4 624.8 L437.3 620.9 L437.3 593.0 L433.4 582.0 L420.0 570.0Z" fill="#b0c6dc" stroke="#1b2240" stroke-width="2.4" stroke-linejoin="round" stroke-linecap="round" /><path d="M414.8 629.4 L414.8 642.3 L450.4 642.3 Q450 636.5 445 632.6 Q440 629.2 435.6 630.6 Q432 634.4 427.4 633 Q422 633.6 418.6 629.6 Z" fill="#f5cc3b" stroke="#1b2240" stroke-width="2.2" stroke-linejoin="round" stroke-linecap="round"/><path d="M475.6 526.5 C476.9 522.6 481.2 517.2 483.0 514.6 C484.8 512.0 484.9 511.2 486.3 510.7 C487.7 510.1 490.5 510.3 491.2 511.3 C491.9 512.3 489.9 515.3 490.6 516.9 C491.3 518.5 494.6 519.5 495.2 520.8 C495.8 522.1 495.1 523.0 494.0 524.8 C492.9 526.6 490.4 529.6 488.6 531.5 C486.8 533.4 485.2 535.0 483.0 536.1 C480.8 537.2 476.3 539.5 475.1 537.9 C473.9 536.3 474.3 530.4 475.6 526.5Z" fill="#fad67b" stroke="#1b2240" stroke-width="2.2" stroke-linejoin="round" stroke-linecap="round" /><path d="M487.5 519.0 L491.5 521.8" fill="none" stroke="#1b2240" stroke-width="1.5" stroke-linejoin="round" stroke-linecap="round" /><path d="M449.0 524.0 L474.0 522.0 L475.8 544.0 L449.0 538.0Z" fill="#fff" stroke="none" stroke-width="0" stroke-linejoin="round" stroke-linecap="round" /><path d="M452.0 524.3 L473.8 522.1 L475.2 538.4 L450.0 536.2Z" fill="#fff" stroke="#1b2240" stroke-width="2.4" stroke-linejoin="round" stroke-linecap="round" /><path d="M433.5 556.0 L445.5 558.5 L444.5 582.5 L437.5 582.0 L434.0 572.0Z" fill="#fff" stroke="#1b2240" stroke-width="2.2" stroke-linejoin="round" stroke-linecap="round" /><path d="M442.0 506.4 L431.2 508.3 L377.7 557.6 L427.4 589.1 L431.5 577.0 L435.4 556.5 L468.6 558.6 L472.6 543.8 L447.9 536.4 L444.5 527.0 L443.5 516.0 L448.0 509.0Z" fill="#fff" stroke="#1b2240" stroke-width="2.5" stroke-linejoin="round" stroke-linecap="round" /><path d="M417.5 527.0 C418.8 529.3 422.4 536.3 425.0 541.0 C427.6 545.7 431.7 552.7 433.0 555.0" fill="none" stroke="#1b2240" stroke-width="2.3" stroke-linejoin="round" stroke-linecap="round" /><path d="M437.5 515.5 C438.2 517.2 439.8 522.5 441.5 526.0 C443.2 529.5 446.8 534.7 447.9 536.4" fill="none" stroke="#1b2240" stroke-width="2.3" stroke-linejoin="round" stroke-linecap="round" /><path d="M410.4 565.5 C411.5 566.2 415.0 569.4 417.3 569.7 C419.6 570.0 422.5 569.4 424.3 567.5 C426.1 565.6 427.6 560.1 428.2 558.6" fill="none" stroke="#1b2240" stroke-width="2.3" stroke-linejoin="round" stroke-linecap="round" /><path d="M417.3 552.7 L428.2 558.6" fill="none" stroke="#1b2240" stroke-width="2.3" stroke-linejoin="round" stroke-linecap="round" /><path d="M471.6 543.6 C473.8 540.8 478.2 543.0 481.0 543.0 C483.8 543.0 486.6 542.7 488.6 543.6 C490.6 544.5 491.9 546.9 493.1 548.5 C494.3 550.1 495.4 551.6 495.9 553.0 C496.4 554.4 496.4 555.5 496.3 556.8 C496.2 558.1 495.8 559.6 495.2 561.0 C494.6 562.4 494.1 564.2 492.9 565.2 C491.7 566.2 490.8 567.5 488.2 567.2 C485.6 566.9 480.4 564.9 477.0 563.6 C473.6 562.3 468.5 562.9 467.6 559.6 C466.7 556.3 469.4 546.4 471.6 543.6Z" fill="#fad67b" stroke="#1b2240" stroke-width="2.2" stroke-linejoin="round" stroke-linecap="round" /><path d="M472.2 543.6 L468.2 559.4" fill="none" stroke="#1b2240" stroke-width="2.4" stroke-linejoin="round" stroke-linecap="round" /><path d="M488.6 549.2 L495.2 552.6" fill="none" stroke="#1b2240" stroke-width="1.5" stroke-linejoin="round" stroke-linecap="round" /><path d="M489.8 555.2 L496.0 557.0" fill="none" stroke="#1b2240" stroke-width="1.5" stroke-linejoin="round" stroke-linecap="round" /><path d="M489.6 560.6 L494.6 561.8" fill="none" stroke="#1b2240" stroke-width="1.5" stroke-linejoin="round" stroke-linecap="round" /><path d="M449.0 483.5 C451.5 481.9 455.1 482.0 458.0 481.2 C460.9 480.4 464.6 478.2 466.5 478.8 C468.4 479.4 468.2 482.4 469.2 484.5 C470.2 486.6 471.7 489.7 472.4 491.3 C473.1 492.9 473.6 492.9 473.3 493.9 C473.0 494.9 471.2 496.2 470.7 497.2 C470.2 498.2 470.6 498.8 470.1 499.7 C469.6 500.6 468.2 501.5 467.5 502.5 C466.8 503.5 466.8 504.4 465.6 505.6 C464.5 506.8 462.6 509.0 460.6 509.9 C458.6 510.8 456.3 511.3 453.8 510.9 C451.3 510.5 447.5 508.9 445.4 507.3 C443.3 505.7 441.7 503.7 441.3 501.0 C440.9 498.3 441.7 493.9 443.0 491.0 C444.3 488.1 446.5 485.1 449.0 483.5Z" fill="#fad67b" stroke="#1b2240" stroke-width="2.2" stroke-linejoin="round" stroke-linecap="round" /><path d="M469.9 470.1 C469.2 469.0 467.7 468.4 465.6 468.0 C463.5 467.6 460.3 467.4 457.2 467.6 C454.1 467.8 450.2 468.3 447.0 469.3 C443.8 470.3 440.5 471.7 437.8 473.5 C435.1 475.3 432.6 477.8 431.0 480.3 C429.4 482.8 428.8 486.0 428.5 488.7 C428.2 491.4 428.6 494.0 429.3 496.3 C430.0 498.6 431.3 501.1 432.7 502.3 C434.1 503.5 436.1 503.6 437.8 503.3 C439.5 503.0 441.3 501.6 442.8 500.6 C444.3 499.6 446.6 498.3 447.0 497.2 C447.4 496.1 445.9 495.1 445.4 493.8 C444.8 492.5 443.7 491.0 443.7 489.6 C443.7 488.2 444.1 486.5 445.4 485.4 C446.7 484.3 448.9 483.5 451.3 482.8 C453.7 482.1 457.2 481.8 459.7 481.1 C462.2 480.4 464.8 479.7 466.5 478.6 C468.2 477.5 469.1 475.8 469.7 474.4 C470.3 473.0 470.6 471.2 469.9 470.1Z" fill="#6d6059" stroke="#1b2240" stroke-width="2.2" stroke-linejoin="round" stroke-linecap="round" /><path d="M444.2 488.6 L459.8 488.4" fill="none" stroke="#1b2240" stroke-width="2" stroke-linejoin="round" stroke-linecap="round" /><ellipse cx="463.1" cy="489.2" rx="2.9" ry="4.5" fill="#fff" stroke="#1b2240" stroke-width="1.9"/><path d="M443.4 488.5 L444.6 493.5" stroke="#fff" stroke-width="1.5" stroke-linecap="round"/><path d="M461.8 499.2 C462.4 498.7 466.1 498.8 466.8 499.4 C467.5 500.0 466.6 502.1 466.0 502.6 C465.4 503.1 464.1 502.8 463.4 502.2 C462.7 501.6 461.2 499.7 461.8 499.2Z" fill="#1b2240" stroke="#1b2240" stroke-width="0.8" stroke-linejoin="round" stroke-linecap="round" />
<!-- sparkles -->
<path d="M564.8 478.8 Q567.1 487.9 576.2 490.2 Q567.1 492.5 564.8 501.6 Q562.5 492.5 553.4 490.2 Q562.5 487.9 564.8 478.8Z" fill="#fff" stroke="#1b2240" stroke-width="2.2" stroke-linejoin="round"/>
<path d="M598.1 483.4 Q601.6 497.3 615.5 500.8 Q601.6 504.3 598.1 518.2 Q594.6 504.3 580.7 500.8 Q594.6 497.3 598.1 483.4Z" fill="#fff" stroke="#1b2240" stroke-width="2.2" stroke-linejoin="round"/>
<!-- labels -->
<text font-size="25.5" textLength="246.5" lengthAdjust="spacingAndGlyphs" stroke="#1a1d3a" stroke-width="0.5"><textPath href="#tp" startOffset="0">CLASSICAL PHYSICS</textPath></text>
<text x="609" y="538" font-size="25.5" textLength="290" lengthAdjust="spacingAndGlyphs" stroke="#1a1d3a" stroke-width="0.5">QUANTUM TUNNELING</text>
</svg>
</body></html>
